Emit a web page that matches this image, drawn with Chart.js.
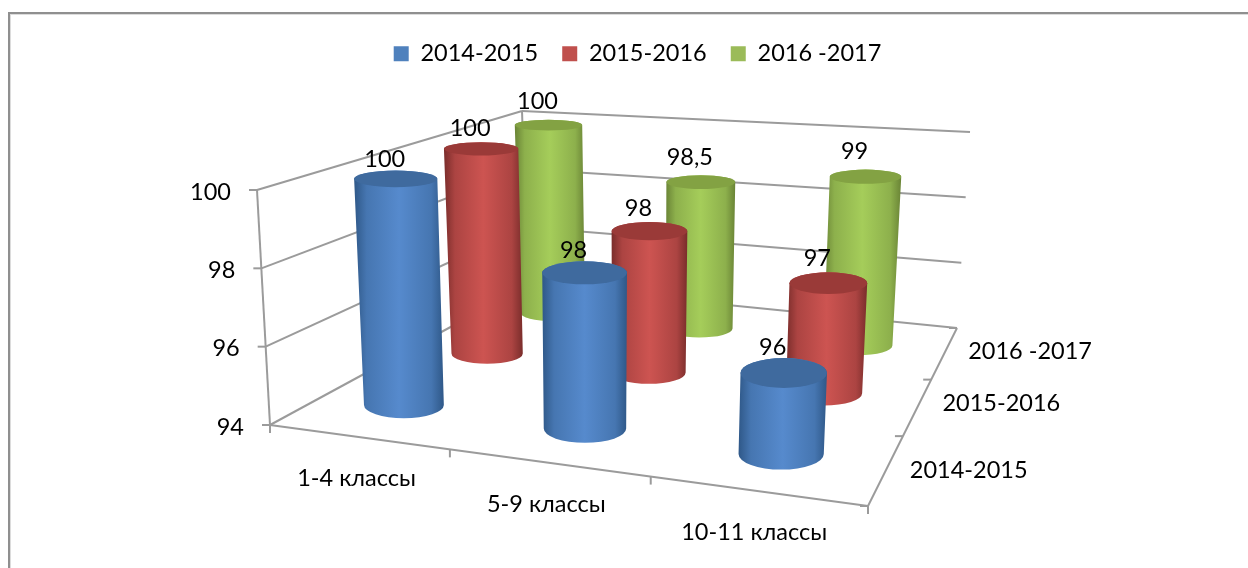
<!DOCTYPE html>
<html><head><meta charset="utf-8">
<style>html,body{margin:0;padding:0;background:#fff;overflow:hidden}
#wrap{position:absolute;left:0;top:0;width:1248px;height:568px;overflow:hidden}
#frame{position:absolute;left:8px;top:12px;width:1300px;height:620px;border:2px solid #8f8f8f;box-sizing:border-box;box-shadow:inset 1px 1px 0 #dcdcdc}
canvas{position:absolute;left:0;top:0}</style>
<script src="https://cdn.jsdelivr.net/npm/chart.js@4/dist/chart.umd.min.js"></script>
</head><body><div id="wrap"><div id="frame"></div><canvas id="c" width="1248" height="568"></canvas></div>
<script>
const categories = ['1-4 классы', '5-9 классы', '10-11 классы'];
const seriesNames = ['2014-2015', '2015-2016', '2016 -2017'];
const values2014 = [100, 98, 96];
const values2015 = [100, 98, 97];
const values2016 = [100, 98.5, 99];
const yTicks = [94, 96, 98, 100];
const allValues = [values2014, values2015, values2016];
const palette = [
  {legend:'#4f81bd', mid:[86,138,205], edge:[47,88,136], top:'#3f6a9e'},
  {legend:'#c0504d', mid:[205,84,81], edge:[122,45,43], top:'#9a3a38'},
  {legend:'#9bbb59', mid:[165,205,90], edge:[106,132,54], top:'#83a243'}
];
const FONT = 'Lato, "Open Sans", sans-serif';
const FS = 23.5;
// projected box corners: [front-left, front-right, back-right, back-left]
const floorBox = [[270,425],[868,506],[957,328],[528,285]];
const ceilBox  = [[257,190],[880,251],[970,132],[522,111]];
const depthRows = [0.215, 0.57, 0.85];
const catShift = [0.027, 0.038, 0.022];
const catLabelShift = [3, 0, -1];
const labelGap = [11, 14, 18];
const RU = 0.0715;

function project(u,v,t){
  const c=floorBox.map((p,i)=>[p[0]+(ceilBox[i][0]-p[0])*t,p[1]+(ceilBox[i][1]-p[1])*t]);
  const f=k=>(c[0][k]*(1-u)+c[1][k]*u)*(1-v)+(c[3][k]*(1-u)+c[2][k]*u)*v;
  return [f(0),f(1)];
}
function line(ctx,a,b){ctx.strokeStyle='#9b9b9b';ctx.lineWidth=2;ctx.beginPath();ctx.moveTo(a[0],a[1]);ctx.lineTo(b[0],b[1]);ctx.stroke();}
function radii(u,v,t,extra){
  const c=project(u,v,t);
  const rx=(project(u+RU,v,t)[0]-project(u-RU,v,t)[0])/2*(1+0.1*(u-0.2));
  const ratio=0.10+extra+(c[1]-100)*0.00075;
  return {x:c[0],y:c[1],rx,ry:rx*ratio};
}
const mix=(a,b,k)=>'rgb('+a.map((x,i)=>Math.round(x+(b[i]-x)*k)).join(',')+')';
function cylinder(ctx,u,v,t,pal){
  const b=radii(u,v,0,0),a=radii(u,v,t,0.04);
  a.y-=1.5;
  const L=Math.min(a.x-a.rx,b.x-b.rx),R=Math.max(a.x+a.rx,b.x+b.rx);
  const grad=ctx.createLinearGradient(L,0,R,0);
  grad.addColorStop(0,mix(pal.edge,pal.mid,0));
  grad.addColorStop(.14,mix(pal.edge,pal.mid,.6));
  grad.addColorStop(.5,mix(pal.edge,pal.mid,1));
  grad.addColorStop(.86,mix(pal.edge,pal.mid,.6));
  grad.addColorStop(1,mix(pal.edge,pal.mid,0));
  ctx.beginPath();
  ctx.moveTo(a.x-a.rx,a.y);
  ctx.lineTo(b.x-b.rx,b.y);
  ctx.ellipse(b.x,b.y,b.rx,b.ry,0,Math.PI,0,true);
  ctx.lineTo(a.x+a.rx,a.y);
  ctx.ellipse(a.x,a.y,a.rx,a.ry,0,0,Math.PI,true);
  ctx.closePath();ctx.fillStyle=grad;ctx.fill();
  ctx.beginPath();ctx.ellipse(a.x,a.y,a.rx,a.ry,0,0,Math.PI*2);ctx.fillStyle=pal.top;ctx.fill();
  return {x:a.x,y:a.y-a.ry};
}

const scene3d={
  id:'scene3d',
  beforeInit(chart){const f=chart.legend.fit;chart.legend.fit=function(){f.call(this);this.height+=98;};},
  beforeDatasetsDraw(chart){
    const ctx=chart.ctx,xs=chart.scales.x,ys=chart.scales.y,area=chart.chartArea;
    const nC=categories.length,nS=allValues.length;
    const uOf=i=>(xs.getPixelForValue(i)-area.left)/area.width-catShift[i];
    const tOf=val=>(area.bottom-ys.getPixelForValue(val))/area.height;
    ctx.save();ctx.lineCap='butt';
    yTicks.forEach(tk=>{const t=tOf(tk);
      const a=project(0,0,t),b=project(0,1,t),c=project(1,1,t);
      line(ctx,a,b);line(ctx,b,c);
      line(ctx,[a[0]-8,a[1]],a);
    });
    line(ctx,project(0,0,0),project(0,0,1));
    line(ctx,project(0,1,0),project(0,1,1));
    line(ctx,project(0,0,0),project(1,0,0));
    line(ctx,project(1,0,0),project(1,1,0));
    const fT=[0,(uOf(0)+uOf(1))/2,(uOf(1)+uOf(2))/2,1];
    fT.forEach(u=>{const p=project(u,0,0);line(ctx,p,[p[0],p[1]+8]);});
    const dT=[0,(depthRows[0]+depthRows[1])/2,(depthRows[1]+depthRows[2])/2,1];
    dT.forEach(v=>{const p=project(1,v,0);line(ctx,p,[p[0]-8,p[1]]);});
    const labels=[];
    for(let s=nS-1;s>=0;s--)for(let i=0;i<nC;i++){
      const val=allValues[s][i];
      const r=cylinder(ctx,uOf(i),depthRows[s],tOf(val),palette[s]);
      labels.push({txt:String(val).replace('.',','),x:r.x-11,y:r.y-labelGap[s]});
    }
    ctx.fillStyle='#000';ctx.font=FS+'px '+FONT;ctx.textBaseline='middle';
    ctx.textAlign='center';labels.forEach(l=>ctx.fillText(l.txt,l.x,l.y));
    ctx.textAlign='right';
    yTicks.forEach(tk=>{const p=project(0,0,tOf(tk));ctx.fillText(String(tk),p[0]-26,p[1]+2);});
    ctx.textAlign='center';
    categories.forEach((c,i)=>{const p=project(uOf(i),0,0);ctx.fillText(c,p[0]+catLabelShift[i],p[1]+42);});
    ctx.textAlign='left';
    seriesNames.forEach((n,s)=>{const v=depthRows[s],p=project(1,v,0);ctx.fillText(n,p[0]+22+3*v,p[1]+5-10*v);});
    ctx.restore();
    return false;
  }
};

new Chart(document.getElementById('c'),{
  type:'bar',
  data:{labels:categories,datasets:seriesNames.map((n,s)=>({label:n,data:allValues[s],backgroundColor:palette[s].legend}))},
  options:{
    responsive:false,animation:false,
    layout:{padding:{left:27,right:0,top:18,bottom:143}},
    scales:{
      x:{display:false,offset:true},
      y:{display:false,min:94,max:100,ticks:{stepSize:2}}
    },
    plugins:{
      legend:{position:'top',labels:{boxWidth:15,boxHeight:15,padding:24,color:'#000',font:{family:FONT,size:FS}}},
      tooltip:{enabled:false}
    }
  },
  plugins:[scene3d]
});
</script></body></html>
